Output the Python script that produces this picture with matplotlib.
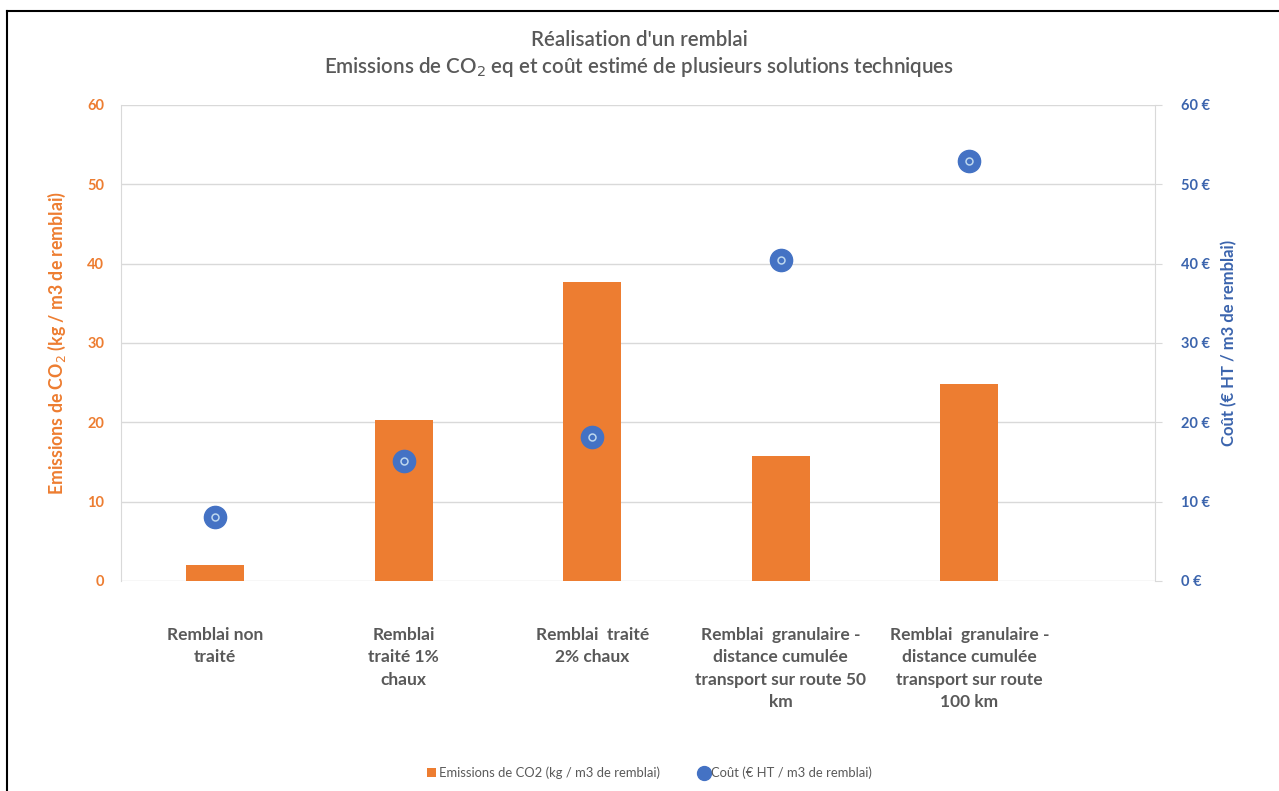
import matplotlib
matplotlib.use("Agg")
import matplotlib.pyplot as plt
from matplotlib.lines import Line2D
from matplotlib.patches import Patch

plt.rcParams['font.family'] = ['Lato', 'DejaVu Sans']

categories = [
    "Remblai non\ntraité",
    "Remblai\ntraité 1%\nchaux",
    "Remblai  traité\n2% chaux",
    "Remblai  granulaire -\ndistance cumulée\ntransport sur route 50\nkm",
    "Remblai  granulaire -\ndistance cumulée\ntransport sur route\n100 km",
]
emissions = [2.05, 20.3, 37.7, 15.8, 24.8]
couts = [8.1, 15.1, 18.2, 40.5, 53.0]
yticks = [0, 10, 20, 30, 40, 50, 60]

ORANGE = "#ED7D31"
BLUE = "#4472C4"
BLUE_TXT = "#3B64AD"
GRAY = "#595959"
GRID = "#D9D9D9"

fig = plt.figure(figsize=(12.79, 7.91), dpi=100)
ax = fig.add_axes([0.0946, 0.2655, 0.9030 - 0.0946, 0.8673 - 0.2655])
ax2 = ax.twinx()

x = list(range(len(categories)))
ax.bar(x, emissions, width=0.31, color=ORANGE, zorder=2)
ax.set_xlim(-0.5, 4.985)
ax.set_ylim(0, 60)
ax.set_yticks(yticks)
ax.set_yticklabels([str(v) for v in yticks])
ax.grid(axis='y', color=GRID, linewidth=1, zorder=0)
ax.set_axisbelow(True)
ax.tick_params(axis='y', length=0, pad=12, labelsize=10.5, labelcolor=ORANGE)
for lbl in ax.get_yticklabels():
    lbl.set_fontweight('bold')
ax.set_xticks(x)
ax.set_xticklabels(categories, fontsize=12.5, color=GRAY, fontweight='bold',
                   linespacing=1.5, va='top')
ax.tick_params(axis='x', length=0, pad=33)
for s in ['top', 'right', 'bottom']:
    ax.spines[s].set_visible(False)
ax.spines['left'].set_color(GRID)
ax.set_ylabel("Emissions de CO$_2$ (kg / m3 de remblai)", color=ORANGE,
              fontsize=12.8, fontweight='bold', labelpad=14)

ax2.plot(x, couts, linestyle='none', marker='o', markersize=16,
         markerfacecolor=BLUE, markeredgecolor=BLUE, zorder=3)
ax2.plot(x, couts, linestyle='none', marker='o', markersize=5,
         markerfacecolor='none', markeredgecolor='#BDD7EE', markeredgewidth=1.1,
         zorder=4)
ax2.set_ylim(0, 60)
ax2.set_yticks(yticks)
ax2.set_yticklabels([f"{v} €" for v in yticks])
ax2.tick_params(axis='y', length=5, color=GRID, pad=14, labelsize=10.5,
                labelcolor=BLUE_TXT)
for lbl in ax2.get_yticklabels():
    lbl.set_fontweight('bold')
for s in ['top', 'left', 'bottom']:
    ax2.spines[s].set_visible(False)
ax2.spines['right'].set_color(GRID)
ax2.set_ylabel("Coût (€ HT / m3 de remblai)", color=BLUE_TXT, fontsize=12,
               fontweight='bold', labelpad=8)

fig.text(0.5, 1 - 40 / 791, "Réalisation d'un remblai", ha='center', va='center',
         fontsize=14.8, color=GRAY, fontweight='semibold')
fig.text(0.5, 1 - 67 / 791,
         "Emissions de CO$_2$ eq et coût estimé de plusieurs solutions techniques",
         ha='center', va='center', fontsize=14.8, color=GRAY, fontweight='semibold')

handles = [
    Patch(facecolor=ORANGE, edgecolor='none', label="Emissions de CO2 (kg / m3 de remblai)"),
    Line2D([], [], linestyle='none', marker='o', markersize=10, markerfacecolor=BLUE,
           markeredgecolor=BLUE, label="Coût (€ HT / m3 de remblai)"),
]
fig.legend(handles=handles, loc='center', bbox_to_anchor=(0.508, 1 - 773 / 791),
           ncol=2, frameon=False, fontsize=9.4, labelcolor=GRAY, handlelength=0.65,
           handleheight=0.65, handletextpad=0.25, columnspacing=3.0)

# outer chart frame
fig.add_artist(Line2D([7 / 1279, 1.0], [1 - 11 / 791, 1 - 11 / 791],
                      transform=fig.transFigure, color='black', linewidth=1.5))
fig.add_artist(Line2D([7 / 1279, 7 / 1279], [0.0, 1 - 11 / 791],
                      transform=fig.transFigure, color='black', linewidth=1.5))

fig.savefig("out.png", dpi=100, facecolor='white')
